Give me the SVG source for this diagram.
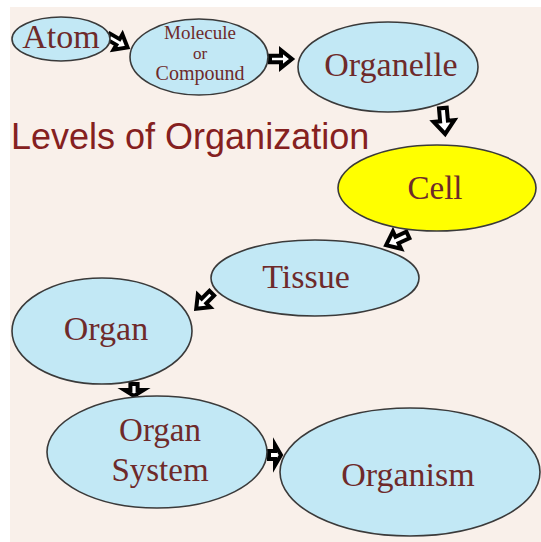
<svg xmlns="http://www.w3.org/2000/svg" width="541" height="542" viewBox="0 0 541 542">
<style>
.node{fill:#c2e8f5;stroke:#3a3a3a;stroke-width:1.6}
.cell{fill:#ffff00;stroke:#3a3a3a;stroke-width:1.6}
.lbl{font-family:"Liberation Serif","Times New Roman",serif;fill:#6e2a2a;text-anchor:middle}
.title{font-family:"Liberation Sans",Arial,sans-serif;fill:#852020;font-size:36px}
.arr{fill:#ffffff;stroke:#000000;stroke-width:4;stroke-linejoin:miter;vector-effect:non-scaling-stroke}
</style>
<defs>
<path id="barrow" class="arr" d="M-10,-3 L0,-3 L0,-8 L10,0 L0,8 L0,3 L-10,3 Z"/>
</defs>
<rect x="0" y="0" width="541" height="542" fill="#ffffff"/>
<rect x="10" y="7" width="531" height="535" fill="#f9f0ea"/>
<text class="title" x="11" y="149">Levels of Organization</text>
<g id="connectors">
<use href="#barrow" transform="translate(118,42) rotate(30) scale(1.1)"/>
<use href="#barrow" transform="translate(281,59) scale(1.1)"/>
<use href="#barrow" transform="translate(444,121) rotate(85) scale(1.3)"/>
<use href="#barrow" transform="translate(397,240) rotate(155) scale(1.2)"/>
<use href="#barrow" transform="translate(204,301) rotate(135) scale(1.1)"/>
<use href="#barrow" transform="translate(134,390) rotate(90) scale(0.6,1.2)"/>
<use href="#barrow" transform="translate(275,455) scale(0.6,1.3)"/>
</g>
<g id="atom">
<ellipse class="node" cx="61" cy="39" rx="49" ry="22"/>
<text class="lbl" x="61" y="48" font-size="34">Atom</text>
</g>
<g id="molecule">
<ellipse class="node" cx="199" cy="57" rx="69" ry="38"/>
<text class="lbl" font-size="19"><tspan x="200" y="39">Molecule</tspan><tspan x="200" y="59" font-size="17">or</tspan><tspan x="200" y="80" font-size="20">Compound</tspan></text>
</g>
<g id="organelle">
<ellipse class="node" cx="388" cy="67" rx="90" ry="45"/>
<text class="lbl" x="391" y="76" font-size="34">Organelle</text>
</g>
<g id="cell">
<ellipse class="cell" cx="437" cy="188" rx="99" ry="43"/>
<text class="lbl" x="435" y="199" font-size="33">Cell</text>
</g>
<g id="tissue">
<ellipse class="node" cx="315" cy="278" rx="104" ry="38"/>
<text class="lbl" x="306" y="288" font-size="34">Tissue</text>
</g>
<g id="organ">
<ellipse class="node" cx="102" cy="331" rx="90" ry="53"/>
<text class="lbl" x="106" y="340" font-size="34">Organ</text>
</g>
<g id="organ-system">
<ellipse class="node" cx="157" cy="452" rx="110" ry="56"/>
<text class="lbl" x="160" y="441" font-size="33">Organ</text>
<text class="lbl" x="160" y="481" font-size="33">System</text>
</g>
<g id="organism">
<ellipse class="node" cx="410" cy="472" rx="130" ry="64"/>
<text class="lbl" x="408" y="486" font-size="34">Organism</text>
</g>
</svg>
